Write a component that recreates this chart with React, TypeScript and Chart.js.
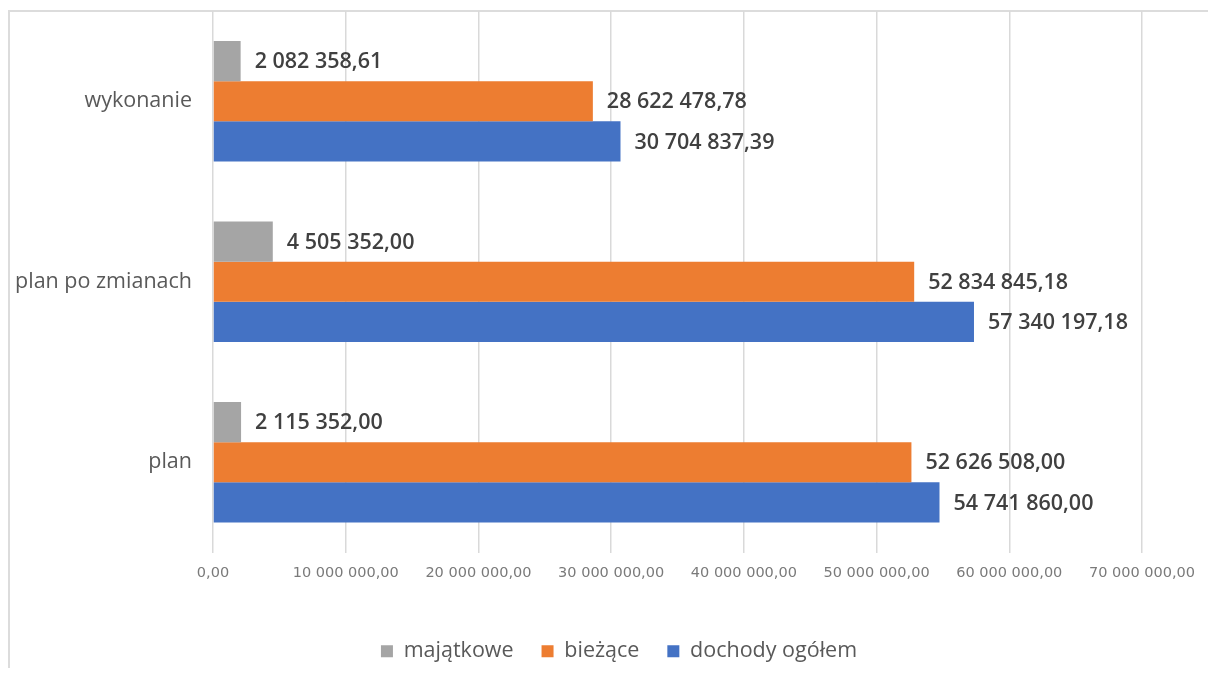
import React, { useEffect, useRef } from "react";
import { Chart, registerables } from "chart.js";

Chart.register(...registerables);

const categories = ["wykonanie", "plan po zmianach", "plan"];
const seriesNames = ["majątkowe", "bieżące", "dochody ogółem"];
const majatkowe = [2082358.61, 4505352.0, 2115352.0];
const biezace = [28622478.78, 52834845.18, 52626508.0];
const ogolem = [30704837.39, 57340197.18, 54741860.0];
const seriesColors = ["#a5a5a5", "#ed7d31", "#4472c4"];
const xMin = 0;
const xMax = 70000000;
const xStep = 10000000;

function fmt(v: number): string {
  const s = Math.abs(v).toFixed(2).split(".");
  const i = s[0].replace(/\B(?=(\d{3})+(?!\d))/g, " ");
  return (v < 0 ? "-" : "") + i + "," + s[1];
}

const valueLabels = {
  id: "valueLabels",
  afterDatasetsDraw(chart: any) {
    const ctx = chart.ctx;
    ctx.save();
    ctx.font = "600 21.5px 'Open Sans'";
    ctx.fillStyle = "#404040";
    ctx.textAlign = "left";
    ctx.textBaseline = "middle";
    chart.data.datasets.forEach((ds: any, di: number) => {
      const meta = chart.getDatasetMeta(di);
      meta.data.forEach((el: any, i: number) => {
        ctx.fillText(fmt(ds.data[i]), el.x + 14, el.y + 1);
      });
    });
    ctx.restore();
  },
};

const zeroPad = (s: any) => {
  s.paddingTop = 0;
  s.paddingBottom = 0;
  s.paddingLeft = 0;
  s.paddingRight = 0;
};

export default function App() {
  const ref = useRef<HTMLCanvasElement | null>(null);
  useEffect(() => {
    if (!ref.current) return;
    const chart = new Chart(ref.current, {
      type: "bar",
      data: {
        labels: categories,
        datasets: [
          { label: seriesNames[0], data: majatkowe, backgroundColor: seriesColors[0] },
          { label: seriesNames[1], data: biezace, backgroundColor: seriesColors[1] },
          { label: seriesNames[2], data: ogolem, backgroundColor: seriesColors[2] },
        ],
      },
      options: {
        indexAxis: "y",
        responsive: false,
        animation: false,
        devicePixelRatio: 1,
        datasets: { bar: { barPercentage: 1, categoryPercentage: 0.667, borderWidth: 0 } },
        layout: { padding: { left: 0, right: -30, top: 11, bottom: 10 } },
        scales: {
          x: {
            type: "linear",
            min: xMin,
            max: xMax,
            afterFit: (s: any) => { s.height = 60; s.paddingLeft = 0; s.paddingRight = 0; },
            ticks: {
              stepSize: xStep,
              callback: (v: any) => fmt(Number(v)),
              font: { family: "'DejaVu Sans'", size: 14.5 },
              color: "#7a7a7a",
              padding: 12,
              maxRotation: 0,
            },
            grid: { color: "#d9d9d9", lineWidth: 1.5, drawTicks: false },
            border: { display: false },
          },
          y: {
            type: "category",
            afterFit: (s: any) => { s.width = 213; zeroPad(s); },
            ticks: {
              font: { family: "'Open Sans'", size: 21.5 },
              color: "#595959",
              padding: 21,
            },
            grid: { display: false, drawTicks: false },
            border: { display: false },
          },
          yRight: {
            type: "linear",
            axis: "y",
            position: "right",
            afterFit: (s: any) => { s.width = 96; zeroPad(s); },
            ticks: { display: false },
            grid: { display: false, drawTicks: false },
            border: { display: false },
          },
        },
        plugins: {
          legend: {
            position: "bottom",
            maxHeight: 70,
            labels: {
              boxWidth: 12,
              boxHeight: 12,
              padding: 28,
              font: { family: "'Open Sans'", size: 21.5 },
              color: "#595959",
            },
          },
          tooltip: { enabled: false },
        },
      },
      plugins: [valueLabels],
    } as any);
    return () => chart.destroy();
  }, []);
  return (
    <>
      <div
        style={{
          position: "fixed",
          left: 8,
          top: 10,
          width: 1210,
          height: 656,
          borderTop: "2px solid #dcdcdc",
          borderLeft: "2px solid #dcdcdc",
        }}
      />
      <canvas
        ref={ref}
        width={1208}
        height={682}
        style={{ position: "fixed", left: 0, top: 0, width: 1208, height: 682, display: "block" }}
      />
    </>
  );
}
